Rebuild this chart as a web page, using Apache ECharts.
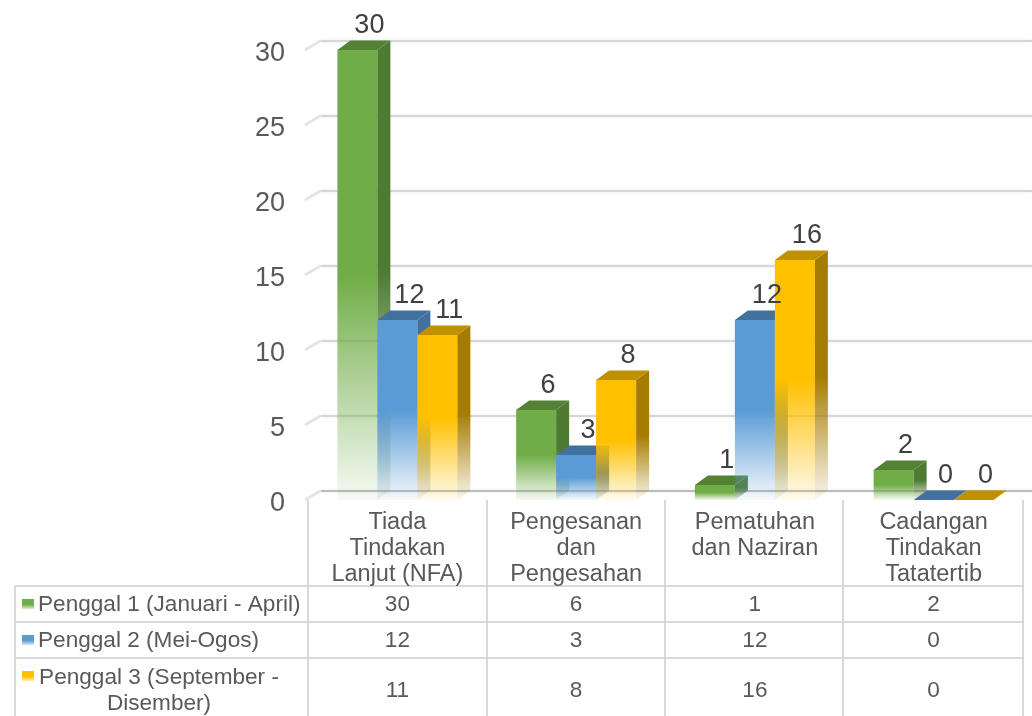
<!DOCTYPE html>
<html><head><meta charset="utf-8">
<style>html,body{margin:0;padding:0;background:#fff}#c{width:1032px;height:716px}</style>
<script src="https://cdn.jsdelivr.net/npm/echarts@6/dist/echarts.min.js"></script>
</head><body><div id="c"></div>
<script>
const categories = ['Tiada\nTindakan\nLanjut (NFA)', 'Pengesanan\ndan\nPengesahan', 'Pematuhan\ndan Naziran', 'Cadangan\nTindakan\nTatatertib'];
const penggal1 = [30, 6, 1, 2];
const penggal2 = [12, 3, 12, 0];
const penggal3 = [11, 8, 16, 0];
const seriesNames = ['Penggal 1 (Januari - April)', 'Penggal 2 (Mei-Ogos)', 'Penggal 3 (September -\nDisember)'];
const yTicks = [0, 5, 10, 15, 20, 25, 30];

const FONT = '"Liberation Sans", Arial, sans-serif';
const TXT = '#595959', LBL = '#404040', LINE = '#d9d9d9';
const DX = 13, DY = 9.5, BAR = 40;
const rowY = [605, 641, 691];
const palette = [
  {front:'112,173,71', side:'78,122,50', top:'84,130,53'},
  {front:'91,155,213', side:'65,113,156', top:'65,113,156'},
  {front:'255,192,0', side:'166,124,0', top:'191,144,0'}
];
const fade = c => ({type:'linear',x:0,y:0,x2:0,y2:1,colorStops:[
  {offset:0,color:`rgb(${c})`},{offset:0.5,color:`rgb(${c})`},{offset:1,color:`rgba(${c},0.06)`}]});

function barSeries(name, values, si){
  const p = palette[si];
  return {
    name, type:'custom', coordinateSystem:'cartesian2d', xAxisIndex:0, yAxisIndex:0, clip:false, silent:true, z:5+si,
    data: values.map((v,i)=>[i,v]),
    encode:{x:0,y:1},
    renderItem(params, api){
      const v = api.value(1);
      const top = api.coord([api.value(0), v]);
      const base = api.coord([api.value(0), 0]);
      const x = top[0] + (si-1.5)*BAR, w = BAR, y = top[1], b = base[1];
      const children = [];
      if (v > 0) {
        children.push({type:'rect',shape:{x,y,width:w,height:b-y},style:{fill:fade(p.front)}});
        children.push({type:'polygon',shape:{points:[[x+w,y],[x+w+DX,y-DY],[x+w+DX,b-DY],[x+w,b]]},style:{fill:fade(p.side)}});
      }
      children.push({type:'polygon',shape:{points:[[x,y],[x+DX,y-DY],[x+w+DX,y-DY],[x+w,y]]},style:{fill:`rgb(${p.top})`}});
      return {type:'group',children};
    }
  };
}
function labelSeries(values, si){
  return {
    name:'Label '+(si+1), type:'custom', coordinateSystem:'cartesian2d', xAxisIndex:0, yAxisIndex:0, clip:false, silent:true, z:20,
    data: values.map((v,i)=>[i,v]),
    encode:{x:0,y:1},
    renderItem(params, api){
      const v = api.value(1);
      const top = api.coord([api.value(0), v]);
      const x = top[0] + (si-1)*BAR;
      return {type:'text',style:{text:String(v),x:x+12,y:top[1]-24,align:'center',verticalAlign:'middle',font:`27px ${FONT}`,fill:LBL}};
    }
  };
}

const chart = echarts.init(document.getElementById('c'), null, {renderer:'canvas'});
const allValues = [penggal1, penggal2, penggal3];
const tableData = [];
allValues.forEach((vals,r)=>vals.forEach((v,i)=>tableData.push([i,r,v])));

const graphicEls = [];
const hLines = [586, 622, 658];
hLines.forEach(y=>graphicEls.push({type:'line',shape:{x1:15,y1:y,x2:1023,y2:y},style:{stroke:LINE,lineWidth:2}}));
[[15,586],[308,500],[487,500],[665,500],[843,500],[1023,500]].forEach(([x,y])=>
  graphicEls.push({type:'line',shape:{x1:x,y1:y,x2:x,y2:716},style:{stroke:LINE,lineWidth:2}}));
palette.forEach((p,i)=>{
  const cy = [604,640,676][i];
  graphicEls.push({type:'rect',shape:{x:22,y:cy-5,width:12,height:10},style:{fill:{type:'linear',x:0,y:0,x2:0,y2:1,colorStops:[
    {offset:0,color:`rgb(${p.front})`},{offset:0.55,color:`rgb(${p.front})`},{offset:1,color:`rgba(${p.front},0.25)`}]}}});
});
const LEG = `22.6px ${FONT}`;
graphicEls.push({type:'text',style:{text:seriesNames[0],x:38,y:605,verticalAlign:'middle',font:LEG,fill:TXT}});
graphicEls.push({type:'text',style:{text:seriesNames[1],x:38,y:641,verticalAlign:'middle',font:LEG,fill:TXT}});
graphicEls.push({type:'text',style:{text:seriesNames[2],x:159,y:691,align:'center',verticalAlign:'middle',lineHeight:26,font:LEG,fill:TXT}});

chart.setOption({
  animation:false,
  backgroundColor:'#fff',
  grid:[
    {left:308,top:50,width:715,height:450},
    {left:321,top:40.5,width:720,height:450}
  ],
  xAxis:[
    {type:'category',gridIndex:0,data:categories,axisLine:{show:false},axisTick:{show:false},
     axisLabel:{interval:0,margin:10,color:TXT,fontFamily:'Liberation Sans',fontSize:23.5,lineHeight:26,verticalAlign:'top'}},
    {type:'category',gridIndex:1,data:categories,show:false}
  ],
  yAxis:[
    {type:'value',gridIndex:0,min:0,max:30,interval:5,axisLine:{show:false},axisTick:{show:false},splitLine:{show:false},
     axisLabel:{margin:23,formatter:'{v|{value}}',rich:{v:{color:TXT,fontFamily:'Liberation Sans',fontSize:27,padding:[7,0,0,0]}}}},
    {type:'value',gridIndex:1,min:0,max:30,interval:5,axisLine:{show:false},axisTick:{show:false},axisLabel:{show:false},
     splitLine:{show:true,lineStyle:{color:'#d6d6d6',width:2,shadowColor:'#e6e6e6',shadowBlur:3}}}
  ],
  graphic:{elements:graphicEls},
  series:[
    {name:'Lantai',type:'line',xAxisIndex:1,yAxisIndex:1,data:[0,0,0,0],showSymbol:false,silent:true,clip:false,z:2,
     lineStyle:{width:0},markLine:{silent:true,symbol:'none',label:{show:false},lineStyle:{color:'#bdbdbd',width:2,type:'solid'},data:[{yAxis:0}]}},
    {name:'Tanda',type:'custom',coordinateSystem:'cartesian2d',xAxisIndex:0,yAxisIndex:0,clip:false,silent:true,z:2,
     data:yTicks.map(t=>[0,t]),encode:{x:0,y:1},
     renderItem(params,api){
       const y = api.coord([0,api.value(1)])[1];
       const x0 = api.coord([0,0])[0] - api.size([1,0])[0]/2;
       return {type:'line',shape:{x1:x0-3,y1:y,x2:x0+13,y2:y-9.5},style:{stroke:'#e4e4e4',lineWidth:3}};
     }},
    barSeries('Penggal 1 (Januari - April)', penggal1, 0),
    barSeries('Penggal 2 (Mei-Ogos)', penggal2, 1),
    barSeries('Penggal 3 (September - Disember)', penggal3, 2),
    labelSeries(penggal1, 0),
    labelSeries(penggal2, 1),
    labelSeries(penggal3, 2),
    {name:'Jadual',type:'custom',coordinateSystem:'cartesian2d',xAxisIndex:0,yAxisIndex:0,clip:false,silent:true,z:10,
     data:tableData,encode:{x:0},
     renderItem(params,api){
       const x = api.coord([api.value(0),0])[0];
       return {type:'text',style:{text:String(api.value(2)),x,y:rowY[api.value(1)],align:'center',verticalAlign:'middle',font:`22.6px ${FONT}`,fill:TXT}};
     }}
  ]
});
</script></body></html>
